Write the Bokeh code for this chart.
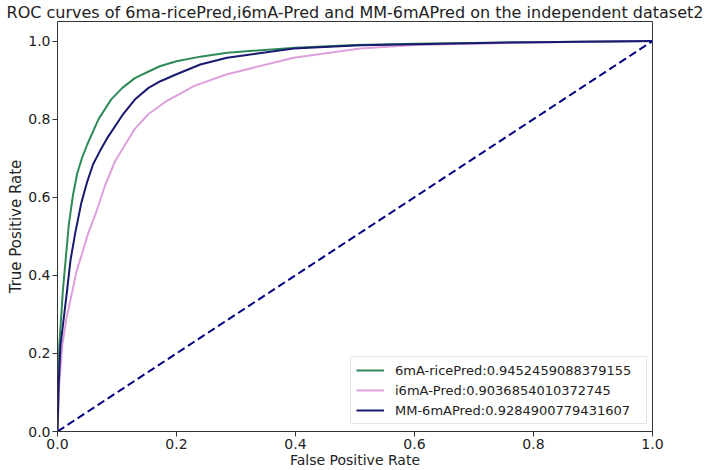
from bokeh.plotting import figure
from bokeh.models import Legend, LegendItem, Range1d, FixedTicker, PrintfTickFormatter
from bokeh.embed import file_html
from bokeh.resources import INLINE

title_text = "ROC curves of 6ma-ricePred,i6mA-Pred and MM-6mAPred on the independent dataset2"
x_label = "False Positive Rate"
y_label = "True Positive Rate"

rice_name = "6mA-ricePred:0.9452459088379155"
rice_fpr = [0, 0.001, 0.003, 0.009, 0.019, 0.026, 0.033, 0.041, 0.05, 0.069, 0.09, 0.109, 0.13, 0.153, 0.173, 0.2, 0.24, 0.285, 0.4, 0.5, 0.6, 0.8, 1.0]
rice_tpr = [0, 0.12, 0.22, 0.36, 0.53, 0.605, 0.66, 0.70, 0.735, 0.80, 0.85, 0.88, 0.905, 0.922, 0.936, 0.948, 0.96, 0.97, 0.983, 0.99, 0.993, 0.997, 1.0]

i6ma_name = "i6mA-Pred:0.9036854010372745"
i6ma_fpr = [0, 0.003, 0.008, 0.015, 0.025, 0.032, 0.041, 0.052, 0.064, 0.08, 0.097, 0.109, 0.13, 0.153, 0.184, 0.23, 0.285, 0.397, 0.509, 0.6, 0.8, 1.0]
i6ma_tpr = [0, 0.12, 0.22, 0.29, 0.36, 0.41, 0.454, 0.51, 0.557, 0.63, 0.693, 0.723, 0.775, 0.813, 0.847, 0.885, 0.915, 0.957, 0.981, 0.99, 0.996, 1.0]

mm_name = "MM-6mAPred:0.9284900779431607"
mm_fpr = [0, 0.002, 0.005, 0.016, 0.022, 0.03, 0.04, 0.05, 0.06, 0.072, 0.083, 0.109, 0.13, 0.153, 0.173, 0.2, 0.24, 0.285, 0.397, 0.509, 0.6, 0.8, 1.0]
mm_tpr = [0, 0.12, 0.22, 0.36, 0.44, 0.51, 0.585, 0.64, 0.685, 0.72, 0.75, 0.81, 0.85, 0.88, 0.897, 0.915, 0.94, 0.957, 0.981, 0.989, 0.992, 0.997, 1.0]

diag_x = [0, 1]
diag_y = [0, 1]

ticks = [0.0, 0.2, 0.4, 0.6, 0.8, 1.0]

FONT = "DejaVu Sans"
TXT = "#222222"

p = figure(width=708, height=470, output_backend="svg", toolbar_location=None,
           x_range=Range1d(0, 1), y_range=Range1d(0, 1.05),
           min_border_left=57, min_border_right=56, min_border_top=20, min_border_bottom=39,
           title=title_text)
p.title.align = "center"
p.title.text_font = FONT
p.title.text_font_size = "16px"
p.title.text_font_style = "normal"
p.title.text_color = TXT
p.title.standoff = 0
p.title.offset = 0

p.grid.visible = False
p.outline_line_color = "#333333"
p.outline_line_width = 1
p.background_fill_color = "white"
p.border_fill_color = "white"

for ax in (p.xaxis[0], p.yaxis[0]):
    ax.ticker = FixedTicker(ticks=ticks)
    ax.formatter = PrintfTickFormatter(format="%.1f")
    ax.minor_tick_line_color = None
    ax.major_tick_out = 5
    ax.major_tick_in = 0
    ax.major_tick_line_color = "#333333"
    ax.axis_line_color = "#333333"
    ax.major_label_text_font = FONT
    ax.major_label_text_font_size = "14px"
    ax.major_label_text_color = TXT
    ax.axis_label_text_font = FONT
    ax.axis_label_text_font_style = "normal"
    ax.axis_label_text_color = TXT

p.xaxis.axis_label = x_label
p.yaxis.axis_label = y_label
p.xaxis.axis_label_text_font_size = "14px"
p.yaxis.axis_label_text_font_size = "15px"
p.xaxis.major_label_standoff = 2
p.xaxis.axis_label_standoff = 0
p.yaxis.major_label_standoff = 2
p.yaxis.axis_label_standoff = 0

r1 = p.line(rice_fpr, rice_tpr, line_color="#2E8B57", line_width=2)
r2 = p.line(i6ma_fpr, i6ma_tpr, line_color="#DDA0DD", line_width=2)
r3 = p.line(mm_fpr, mm_tpr, line_color="#191970", line_width=2)
p.line(diag_x, diag_y, line_color="#000080", line_width=2, line_dash="8 4")

legend = Legend(items=[LegendItem(label=rice_name, renderers=[r1]),
                       LegendItem(label=i6ma_name, renderers=[r2]),
                       LegendItem(label=mm_name, renderers=[r3])],
                location=(293, 7))
legend.label_text_font = FONT
legend.label_text_font_size = "13px"
legend.label_text_color = TXT
legend.glyph_width = 28
legend.glyph_height = 16
legend.label_height = 16
legend.label_width = 246
legend.label_standoff = 11
legend.spacing = 4
legend.padding = 5
legend.margin = 0
legend.border_line_color = "#cccccc"
legend.border_line_width = 1
legend.background_fill_alpha = 0.8
p.add_layout(legend, "center")

open("out.html", "w").write(file_html(p, INLINE))
